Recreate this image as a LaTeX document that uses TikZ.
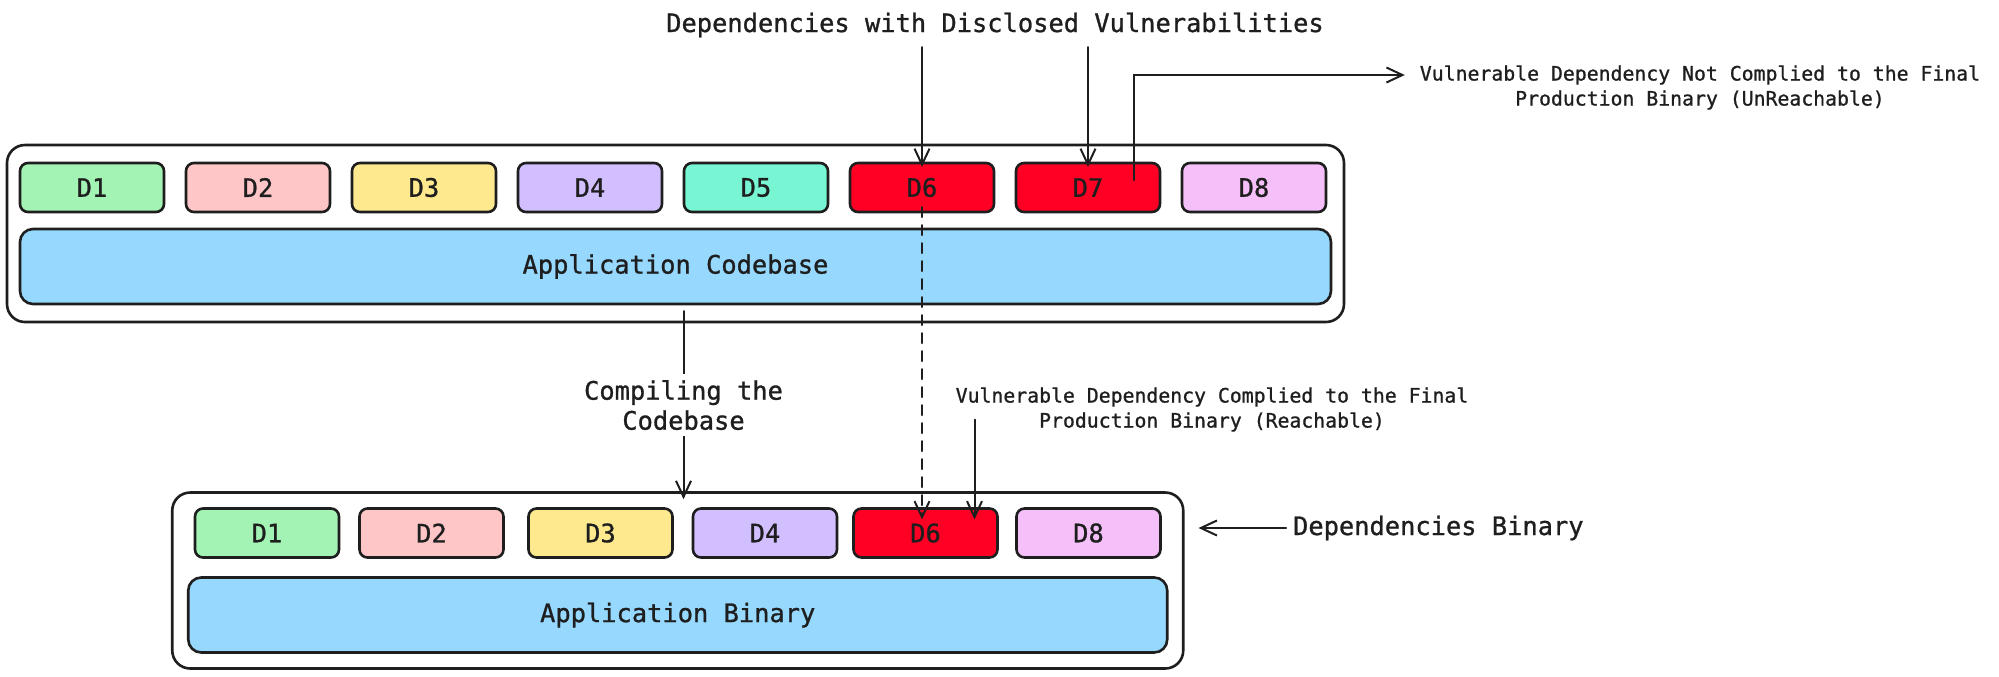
\documentclass[tikz,border=0pt]{standalone}
\usepackage{fontspec}
\setmonofont{DejaVu Sans Mono}[FakeBold=1]
\usepackage{tikz}
\usetikzlibrary{arrows.meta,positioning,fit,calc}
\definecolor{ink}{HTML}{1E1E1E}
\definecolor{mint}{HTML}{A2F3B4}
\definecolor{blush}{HTML}{FFC6C7}
\definecolor{butter}{HTML}{FFE98F}
\definecolor{lilac}{HTML}{D2BFFF}
\definecolor{aqua}{HTML}{78F5D3}
\definecolor{alarm}{HTML}{FF0024}
\definecolor{orchid}{HTML}{F5BFF9}
\definecolor{sky}{HTML}{96D8FE}
\tikzset{
  dep/.style={rectangle, rounded corners=4pt, draw=ink, line width=1.3pt, minimum width=72pt, outer sep=0pt,
              minimum height=24.5pt, inner sep=0pt, font=\ttfamily\fontsize{12.7}{15}\selectfont, text=ink},
  vulndep/.style={dep, fill=alarm},
  appbar/.style={rectangle, rounded corners=6.5pt, draw=ink, fill=sky, line width=1.3pt, outer sep=0pt,
                 minimum height=37.5pt, inner sep=0pt, font=\ttfamily\fontsize{12.7}{15}\selectfont, text=ink},
  frame/.style={rectangle, rounded corners=9pt, draw=ink, line width=1.3pt, inner xsep=6.5pt, inner ysep=9pt},
  lbl/.style={font=\ttfamily\fontsize{12.7}{15}\selectfont, text=ink, align=center},
  note/.style={font=\ttfamily\fontsize{9.9}{12.5}\selectfont, text=ink, align=center},
  flow/.style={-{Straight Barb[length=8pt,width=7.5pt]}, draw=ink, line width=1pt, line cap=round},
  dashflow/.style={flow, dash pattern=on 5pt off 4pt}
}
\begin{document}
\begin{tikzpicture}[x=0.5pt, y=-0.5pt, node distance=11pt]
  \useasboundingbox (0,0) rectangle (1999,676);
  \node[lbl, anchor=base] (vulns) at (995,32) {Dependencies with Disclosed Vulnerabilities};
  % codebase
  \node[dep, fill=mint] (c1) at (92,187.5) {D1};
  \node[dep, fill=blush, right=of c1] (c2) {D2};
  \node[dep, fill=butter, right=of c2] (c3) {D3};
  \node[dep, fill=lilac, right=of c3] (c4) {D4};
  \node[dep, fill=aqua, right=of c4] (c5) {D5};
  \node[vulndep, right=of c5] (c6) {D6};
  \node[vulndep, right=of c6] (c7) {D7};
  \node[dep, fill=orchid, right=of c7] (c8) {D8};
  \node[appbar, minimum width=655.5pt, below=8.5pt of c1.south west, anchor=north west] (code) {Application Codebase};
  \node[frame, fit=(c1)(c8)(code)] (codebox) {};
  % binary
  \node[dep, fill=mint] (b1) at (267,533) {D1};
  \node[dep, fill=blush, right=10.25pt of b1] (b2) {D2};
  \node[dep, fill=butter, right=12.5pt of b2] (b3) {D3};
  \node[dep, fill=lilac, right=10.25pt of b3] (b4) {D4};
  \node[vulndep, right=8.25pt of b4] (b6) {D6};
  \node[dep, fill=orchid, right=9.5pt of b6] (b8) {D8};
  \node[appbar, minimum width=489.5pt, below=10pt of $(b1.south)!0.5!(b8.south)$] (binary) {Application Binary};
  \node[frame, inner sep=8pt, fit=(b1)(b8)(binary)] (binbox) {};
  \node[note] (unreach) at (1700,87.5) {Vulnerable Dependency Not Complied to the Final\\Production Binary (UnReachable)};
  \node[note] (reach) at (1212,409.5) {Vulnerable Dependency Complied to the Final\\Production Binary (Reachable)};
  \node[lbl, anchor=base west] (binlbl) at (1286,535) {Dependencies Binary};
  \draw[flow] ([yshift=-7.5pt]vulns.base -| c6.north) -- ([yshift=-2pt]c6.north);
  \draw[flow] ([yshift=-7.5pt]vulns.base -| c7.north) -- ([yshift=-2pt]c7.north);
  \draw[flow] ([xshift=23pt,yshift=3.75pt]c7.center) |- ([xshift=-4pt,yshift=6.25pt]unreach.west);
  \draw[dashflow] ([yshift=-9.75pt]c6.center) -- ([yshift=-5.5pt]c6.center |- b6.north);
  \draw[flow] ([xshift=4pt,yshift=-3.5pt]code.south) -- node[lbl, fill=white, inner sep=3pt] {Compiling the\\Codebase} ([xshift=4pt,yshift=-4pt]code.south |- binbox.north);
  \draw[flow] ([xshift=24.5pt,yshift=-5pt]b6.north |- reach.center) -- ([xshift=24.5pt,yshift=-5.5pt]b6.north);
  \draw[flow] (binlbl.west) -- ([xshift=7pt]binbox.east |- binlbl.west);
\end{tikzpicture}
\end{document}
